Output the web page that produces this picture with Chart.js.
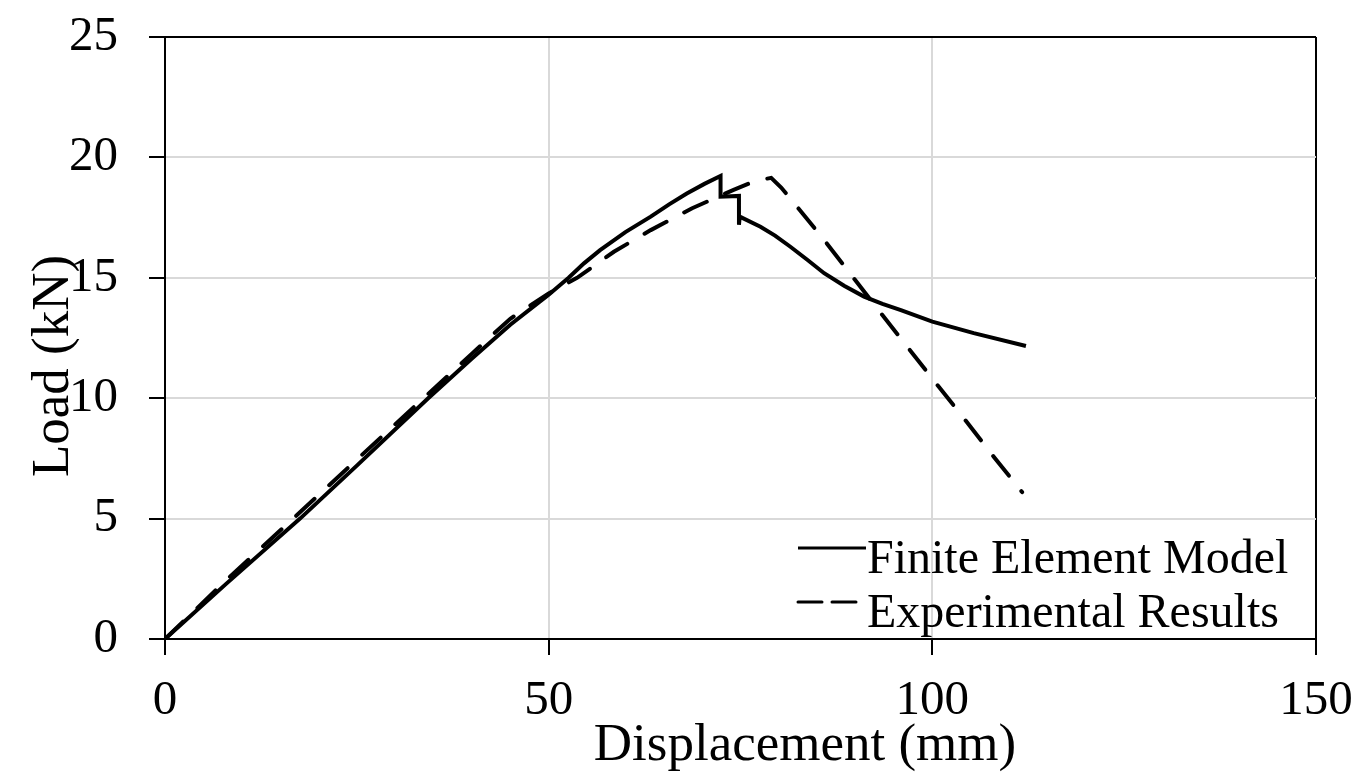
<!DOCTYPE html>
<html>
<head>
<meta charset="utf-8">
<script src="https://cdn.jsdelivr.net/npm/chart.js@4.4.0/dist/chart.umd.min.js"></script>
<style>
  body { margin: 0; background: #fff; }
  #wrap { width: 1351px; height: 781px; }
</style>
</head>
<body>
<div id="wrap"><canvas id="loadchart"></canvas></div>
<script>
// Finite element model (solid)
const femX = [0, 8, 17.6, 25, 34.3, 40, 45, 50, 52.6, 54.6, 56.7, 60, 63.3, 65.7, 68, 70.3, 72.4, 72.4, 74.8, 74.8, 74.9, 77.6, 79.5, 81.5, 83.7, 85.9, 88.5, 91.1, 93.5, 95.9, 100, 105.4, 112.2];
const femY = [0, 2.3, 5, 7.2, 10, 11.65, 13.05, 14.3, 15, 15.6, 16.15, 16.9, 17.54, 18.05, 18.5, 18.9, 19.23, 18.37, 18.4, 17.2, 17.54, 17.12, 16.75, 16.29, 15.75, 15.19, 14.67, 14.22, 13.92, 13.66, 13.18, 12.7, 12.17];

// Experimental results (dashed)
const expX = [0, 8, 16.7, 25, 33.7, 40, 45, 50, 53.7, 58.5, 63.3, 68.7, 72.1, 74.1, 76, 78, 79, 80.3, 82.2, 85.9, 89.6, 93.3, 100.65, 104.3, 108, 111.7];
const expY = [0, 2.45, 5, 7.45, 10, 11.85, 13.3, 14.35, 15, 16.08, 16.98, 17.89, 18.37, 18.65, 18.9, 19.09, 19.15, 18.75, 18.02, 16.57, 15.05, 13.53, 10.55, 9.09, 7.57, 6.1];

const seriesNames = ['Finite Element Model', 'Experimental Results'];
const xTitle = 'Displacement (mm)';
const yTitle = 'Load (kN)';

const serif = "'Liberation Serif', 'Times New Roman', serif";

function pairs(xs, ys) {
    return xs.map((x, i) => ({ x: x, y: ys[i] }));
}

// titles and legend sit off-centre in the original, so they are drawn by hand
const extras = {
    id: 'extras',
    afterDraw(chart) {
        const ctx = chart.ctx;
        ctx.save();
        ctx.fillStyle = '#000';
        ctx.font = '53px ' + serif;
        ctx.textAlign = 'center';
        ctx.textBaseline = 'alphabetic';
        ctx.fillText(xTitle, 805, 760);
        ctx.translate(68, 366);
        ctx.rotate(-Math.PI / 2);
        ctx.fillText(yTitle, 0, 0);
        ctx.restore();

        ctx.save();
        ctx.font = '48px ' + serif;
        ctx.textAlign = 'left';
        ctx.textBaseline = 'alphabetic';
        chart.data.datasets.forEach((ds, i) => {
            const y = 573 + i * 54;
            ctx.strokeStyle = ds.borderColor;
            ctx.lineWidth = 3;
            ctx.lineCap = ds.borderDash.length ? 'round' : 'butt';
            ctx.setLineDash(ds.borderDash.length ? [24, 10] : []);
            ctx.beginPath();
            ctx.moveTo(798, y - 25);
            ctx.lineTo(866, y - 25);
            ctx.stroke();
            ctx.setLineDash([]);
            ctx.fillStyle = '#000';
            ctx.fillText(ds.label, 867, y);
        });
        ctx.restore();
    }
};

let loadChart = new Chart(document.getElementById('loadchart'), {
    type: 'scatter',
    data: {
        datasets: [{
            label: seriesNames[0],
            data: pairs(femX, femY),
            showLine: true,
            borderColor: '#000',
            borderWidth: 4,
            borderDash: [],
            pointRadius: 0,
            tension: 0
        }, {
            label: seriesNames[1],
            data: pairs(expX, expY),
            showLine: true,
            borderColor: '#000',
            borderWidth: 4,
            borderDash: [25, 20],
            borderCapStyle: 'round',
            pointRadius: 0,
            tension: 0
        }]
    },
    options: {
        responsive: true,
        maintainAspectRatio: false,
        animation: false,
        layout: { padding: { top: 37, right: 35, bottom: 0, left: 0 } },
        plugins: {
            legend: { display: false },
            tooltip: { enabled: false }
        },
        scales: {
            x: {
                type: 'linear',
                min: 0,
                max: 150,
                ticks: {
                    stepSize: 50,
                    maxRotation: 0,
                    padding: 17,
                    color: '#000',
                    font: { family: serif, size: 49 }
                },
                grid: {
                    color: c => c.tick && c.tick.value === 150 ? '#000' : '#d9d9d9',
                    lineWidth: 2,
                    tickColor: '#000',
                    tickWidth: 2,
                    tickLength: 16
                },
                border: { color: '#000', width: 2 },
                afterFit(scale) {
                    scale.height = 142;
                    scale.paddingLeft = 0;
                    scale.paddingRight = 0;
                }
            },
            y: {
                min: 0,
                max: 25,
                ticks: {
                    stepSize: 5,
                    padding: 31,
                    color: '#000',
                    font: { family: serif, size: 49 }
                },
                grid: {
                    color: c => c.tick && c.tick.value === 25 ? '#000' : '#d9d9d9',
                    lineWidth: 2,
                    tickColor: '#000',
                    tickWidth: 2,
                    tickLength: 16
                },
                border: { color: '#000', width: 2 },
                afterFit(scale) {
                    scale.width = 165;
                    scale.paddingTop = 0;
                    scale.paddingBottom = 0;
                }
            }
        }
    },
    plugins: [extras]
});
</script>
</body>
</html>
